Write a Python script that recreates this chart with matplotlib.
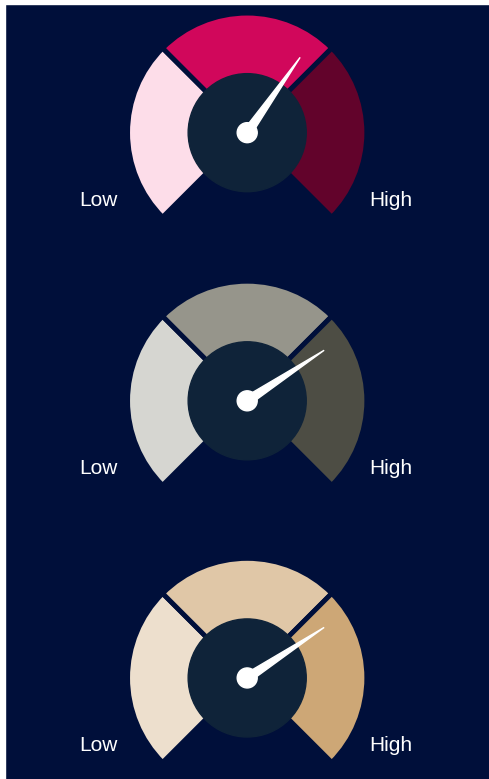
import matplotlib.pyplot as plt
from matplotlib.patches import Wedge, Circle, Polygon, Rectangle
import numpy as np

# gauge readings on a 0-100 scale
values = [63, 71, 71]
palettes = [
    ["#FDDDE9", "#D1075B", "#62032B"],
    ["#D6D6D1", "#96958B", "#4D4D44"],
    ["#EDDFCD", "#E0C7A7", "#CDA776"],
]
low_label = "Low"
high_label = "High"

bg = "#000F3A"
hub_bg = "#0F2339"
W, H = 489, 779
centers_y = [133, 401, 678]
cx = 247
R = 119.5
r_inner = 59
needle_len = 92
sweep = 270  # degrees covered by the dial

# a little over the pixel size so float rounding never drops a pixel
fig = plt.figure(figsize=((W + 0.4) / 100, (H + 0.4) / 100), dpi=100, facecolor=bg)
ax = fig.add_axes([0, 0, 1, 1])
ax.set_xlim(0, W)
ax.set_ylim(H, 0)
ax.set_aspect("equal", adjustable="datalim")
ax.axis("off")
# thin white margin on the left and top, as in the source image
fig.patches.append(Rectangle((0, 0), 5 / W, 1, transform=fig.transFigure,
                             color="white", zorder=0))
fig.patches.append(Rectangle((0, 1 - 4 / H), 1, 4 / H, transform=fig.transFigure,
                             color="white", zorder=0))

for val, cols, cy in zip(values, palettes, centers_y):
    # three 90 degree segments from 225 deg (low) to -45 deg (high)
    # y axis is flipped, so angles go the other way
    starts = [135, 225, 315]
    for s, c in zip(starts, cols):
        ax.add_patch(Wedge((cx, cy), R, s, s + 90, facecolor=c,
                           edgecolor=bg, linewidth=3.5, zorder=1))
    ax.add_patch(Circle((cx, cy), r_inner, color=hub_bg, zorder=2))

    ang = np.deg2rad(-135 + sweep * val / 100)  # from vertical, clockwise
    dx, dy = np.sin(ang), -np.cos(ang)
    px, py = np.cos(ang), np.sin(ang)
    base = 4.5
    tip = (cx + dx * needle_len, cy + dy * needle_len)
    pts = [(cx + px * base, cy + py * base), tip, (cx - px * base, cy - py * base)]
    ax.add_patch(Polygon(pts, closed=True, color="white", zorder=3))
    ax.add_patch(Circle((cx, cy), 10, color="white", zorder=4))

    ax.text(98, cy + 73, low_label, color="white", fontsize=15,
            family="Liberation Sans", ha="center", va="baseline")
    ax.text(390, cy + 73, high_label, color="white", fontsize=15,
            family="Liberation Sans", ha="center", va="baseline")

fig.savefig("out.png", dpi=100, facecolor=bg)
